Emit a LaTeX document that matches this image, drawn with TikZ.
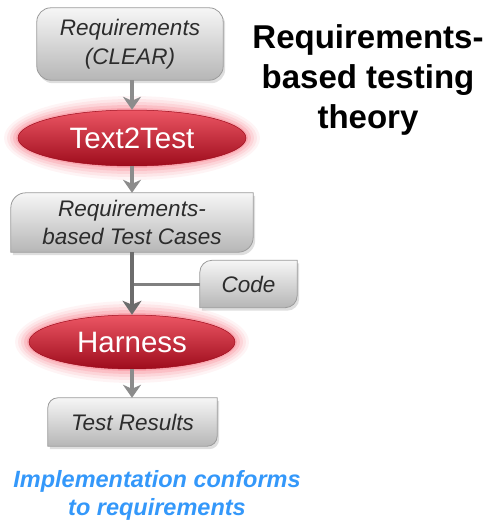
\documentclass[tikz,border=0pt]{standalone}
\usepackage{fontspec}
\setmainfont{Liberation Sans}
\usetikzlibrary{shapes.geometric,arrows.meta}
\pgfdeclarelayer{background}
\pgfsetlayers{background,main}
\definecolor{boxtop}{RGB}{246,246,246}
\definecolor{boxbot}{RGB}{182,182,182}
\definecolor{boxline}{RGB}{155,155,155}
\definecolor{boxtext}{RGB}{44,44,44}
\definecolor{redtop}{RGB}{236,86,100}
\definecolor{redmid}{RGB}{218,30,46}
\definecolor{redbot}{RGB}{158,12,28}
\definecolor{glowc}{RGB}{242,40,62}
\definecolor{arrgray}{RGB}{140,140,140}
\definecolor{darkarr}{RGB}{108,108,108}
\definecolor{linegray}{RGB}{128,128,128}
\definecolor{bluetext}{RGB}{52,152,250}
\newcommand\diagshape[2]{%
  \fill[shadowfill] ([xshift=#2+2pt,yshift=-3pt]#1.north west) -- ([xshift=2pt,yshift=-3pt]#1.north east)
    -- ([xshift=2pt,yshift=#2-3pt]#1.south east) arc[start angle=0,end angle=-90,radius=#2]
    -- ([xshift=2pt,yshift=-3pt]#1.south west) -- ([xshift=2pt,yshift=-#2-3pt]#1.north west)
    arc[start angle=180,end angle=90,radius=#2] -- cycle;
  \shade[boxshade] ([xshift=#2]#1.north west) -- (#1.north east)
    -- ([yshift=#2]#1.south east) arc[start angle=0,end angle=-90,radius=#2]
    -- (#1.south west) -- ([yshift=-#2]#1.north west)
    arc[start angle=180,end angle=90,radius=#2] -- cycle;}
\newcommand\glowat[3]{%
  \foreach \g/\o in {14/0.05,11/0.07,8/0.09,5/0.12,2/0.16}
    \fill[glowc,opacity=\o] (#1) ellipse[x radius=#2+\g pt, y radius=#3+\g pt];}
\tikzset{
  boxtxt/.style={inner sep=0pt, align=center, text=boxtext, font=\fontsize{22.5}{28.5}\selectfont\itshape},
  boxshade/.style={top color=boxtop, bottom color=boxbot, draw=boxline, line width=0.8pt},
  shadowfill/.style={fill=black, opacity=0.13},
  redell/.style={ellipse, inner sep=0pt, top color=redtop, middle color=redmid, bottom color=redbot,
    draw=redbot, line width=0.5pt, text=white, font=\fontsize{29.5}{34}\selectfont},
  arr/.style={draw=arrgray, line width=3.5pt, -{Stealth[length=13pt,width=18pt,inset=4pt]}},
  darr/.style={draw=darkarr, line width=4pt, -{Stealth[length=14pt,width=19pt,inset=4pt]}},
  hline/.style={draw=linegray, line width=3pt}
}
\begin{document}
\begin{tikzpicture}[x=1pt,y=1pt]
\useasboundingbox (0,0) rectangle (495,-523);
% boxes
\node[boxtxt, minimum width=186pt, minimum height=72pt] (req) at (130,-44) {Requirements\\(CLEAR)};
\node[boxtxt, minimum width=242pt, minimum height=59pt] (tc) at (132,-222.5) {Requirements-\\based Test Cases};
\node[boxtxt, minimum width=97pt, minimum height=47pt] (code) at (248.5,-284) {Code};
\node[boxtxt, minimum width=169pt, minimum height=48pt] (res) at (132.5,-422) {Test Results};
\begin{pgfonlayer}{background}
  \fill[shadowfill, rounded corners=14pt] ([xshift=2pt,yshift=-3pt]req.north west) rectangle ([xshift=2pt,yshift=-3pt]req.south east);
  \shade[boxshade, rounded corners=14pt] (req.north west) rectangle (req.south east);
  \diagshape{tc}{15pt}
  \diagshape{code}{12pt}
  \diagshape{res}{10pt}
\end{pgfonlayer}
% ellipses
\coordinate (c1) at (132,-138);
\coordinate (c2) at (132,-342);
\glowat{c1}{114pt}{28pt}
\glowat{c2}{103pt}{27pt}
\node[redell, minimum width=228pt, minimum height=56pt] (t2t) at (c1) {Text2Test};
\node[redell, minimum width=206pt, minimum height=54pt] (har) at (c2) {Harness};
% connectors
\draw[arr] (c1 |- req.south) -- (t2t.north);
\draw[arr] (t2t.south) -- (t2t.south |- tc.north);
\draw[hline] (code.west) -- (code.west -| tc.south);
\draw[darr] (tc.south) -- (har.north);
\draw[arr] (har.south) -- (har.south |- res.north);
% texts
\node[font=\fontsize{33}{40}\selectfont\bfseries, align=center, inner sep=0pt] (title) at (368,-79.5) {Requirements-\\based testing\\theory};
\node[font=\fontsize{23.5}{28}\selectfont\bfseries\itshape, text=bluetext, align=center, inner sep=0pt] (concl) at (157,-495) {Implementation conforms\\to requirements};
\end{tikzpicture}
\end{document}
